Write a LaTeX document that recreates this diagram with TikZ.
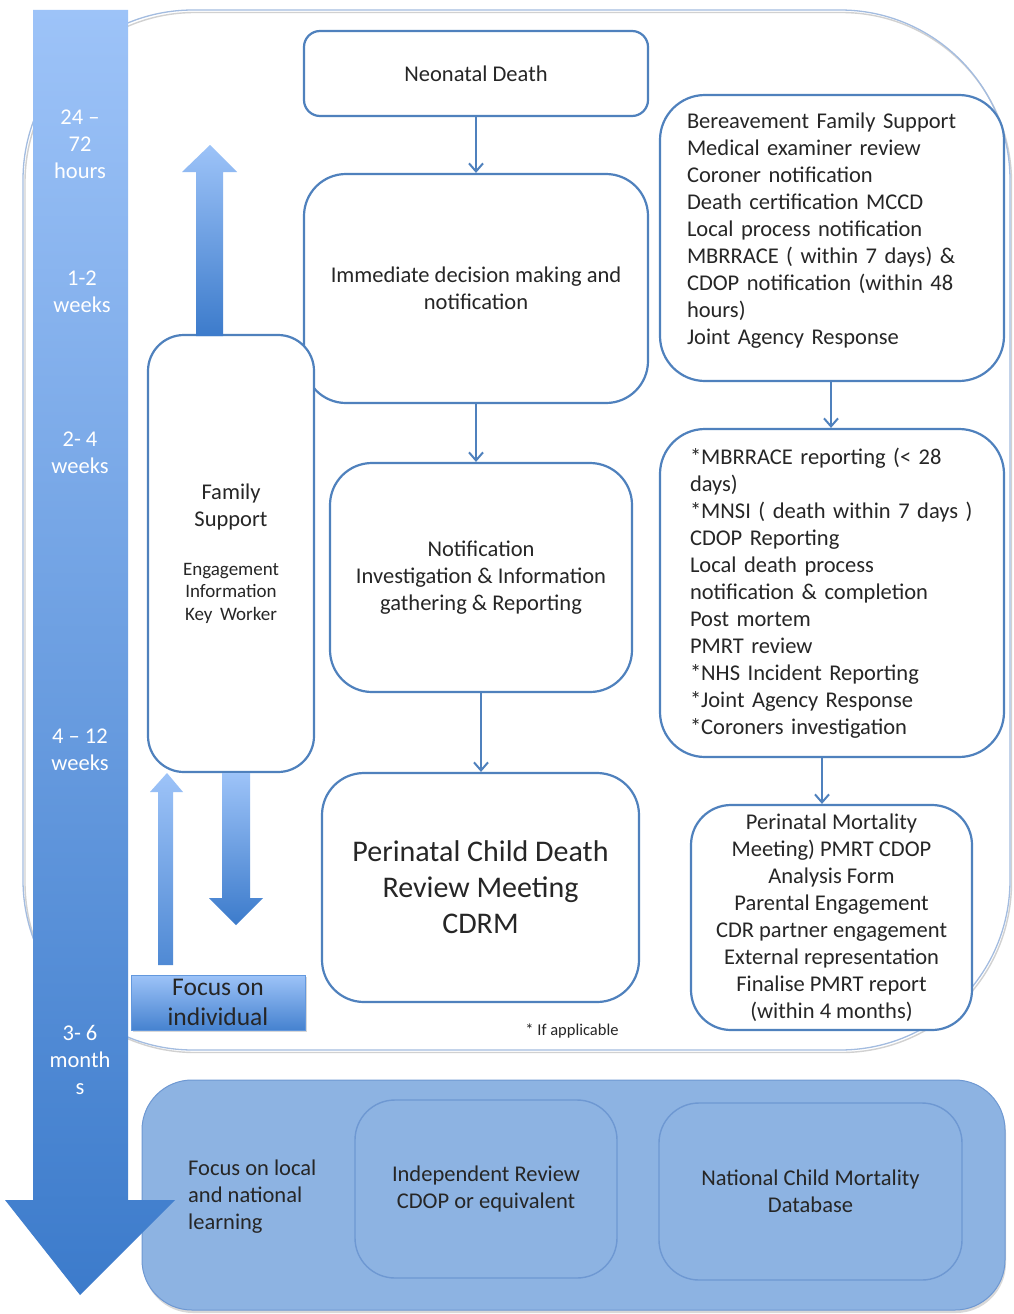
\documentclass[tikz,border=0pt]{standalone}
\usepackage{fontspec}
\setmainfont{Carlito}
\usetikzlibrary{arrows.meta,shadows}
\definecolor{boxline}{HTML}{4F81BD}
\definecolor{txt}{HTML}{262626}
\definecolor{lightb}{HTML}{9DC3F8}
\definecolor{darkb}{HTML}{3C7BCB}
\definecolor{frameline}{HTML}{A3BCE0}
\definecolor{bandfill}{HTML}{8DB3E2}
\definecolor{bandline}{HTML}{6E98D2}
\begin{document}
\begin{tikzpicture}[x=1pt,y=-1pt,
  box/.style={draw=boxline, line width=2.2pt, fill=white, text=txt, align=center,
    font=\fontsize{22.5}{27}\selectfont, inner sep=0pt},
  lbox/.style={box, align=left},
  conn/.style={draw=boxline, line width=2.2pt, -{Straight Barb[length=8pt,width=14pt,line width=2pt]}},
  tl/.style={text=white, align=center, font=\fontsize{22.5}{27}\selectfont},
  blockarrow/.style={top color=lightb, bottom color=darkb, draw=none},
  inner/.style={draw=bandline, line width=1.4pt, fill=bandfill, rounded corners=40pt,
    text=txt, align=center, font=\fontsize{22.5}{27}\selectfont},
]
\useasboundingbox (0,0) rectangle (1013,1314);
\fill[white] (0,0) rectangle (1013,1314);

% outer frame (with faint shadow line)
\draw[black!18, line width=1.4pt, rounded corners=170pt] (25,12.5) rectangle (1011.5,1052.5);
\draw[frameline, line width=1.3pt, rounded corners=170pt] (23,10) rectangle (1010,1050);

% bottom band
\node[draw=bandline, line width=1pt, fill=bandfill, rounded corners=50pt,
  minimum width=863pt, minimum height=230pt,
  drop shadow={opacity=0.3, shadow xshift=1pt, shadow yshift=-3pt}] (band) at (573.5,1195) {};
\node[text=txt, align=left, anchor=west, inner sep=0pt, font=\fontsize{22.5}{27}\selectfont] (learn) at (188,1197)
  {Focus on local\\and national\\learning};
\node[inner, minimum width=262pt, minimum height=178pt] (indep) at (486,1189)
  {Independent Review\\CDOP or equivalent};
\node[inner, minimum width=303pt, minimum height=177pt] (ncmd) at (810.5,1191.5)
  {National Child Mortality\\Database};

% timeline arrow
\shade[blockarrow] (33,10) -- (128,10) -- (128,1200) -- (175,1200) -- (80,1295) -- (5,1200) -- (33,1200) -- cycle;
\node[tl] (t1) at (80,144) {24 –\\72\\hours};
\node[tl] (t2) at (82,292) {1-2\\weeks};
\node[tl] (t3) at (80,453) {2- 4\\weeks};
\node[tl] (t4) at (80,750) {4 – 12\\weeks};
\node[tl] (t5) at (80,1060) {3- 6\\month\\s};

% main boxes
\node[box, minimum width=344pt, minimum height=85pt, rounded corners=16pt] (nd) at (476,73.5)
  {Neonatal Death};
\node[box, minimum width=344pt, minimum height=229pt, rounded corners=42pt] (imm) at (476,288.5)
  {Immediate decision making and\\notification};
\node[box, minimum width=302pt, minimum height=229pt, rounded corners=42pt] (notif) at (481,577.5)
  {Notification\\Investigation \& Information\\gathering \& Reporting};
\node[box, minimum width=317pt, minimum height=229pt, rounded corners=42pt,
  font=\fontsize{30}{36}\selectfont] (cdrm) at (480.5,887.5)
  {Perinatal Child Death\\Review Meeting\\CDRM};
\node[box, minimum width=166pt, minimum height=437pt, rounded corners=36pt, text width=156pt] (fam) at (231,553.5)
  {Family\\Support\par\vspace{26pt}{\fontsize{19}{22.5}\selectfont Engagement\\Information\\Key Worker\par}};

\node[lbox, minimum width=344pt, minimum height=286pt, rounded corners=45pt, text width=290pt] (r1) at (832,238)
  {Bereavement Family Support\\Medical examiner review\\Coroner notification\\Death certification MCCD\\Local process notification\\MBRRACE ( within 7 days) \&\\CDOP notification (within 48\\hours)\\Joint Agency Response\par\vspace{14pt}};
\node[lbox, minimum width=344pt, minimum height=328pt, rounded corners=45pt, text width=284pt] (r2) at (832,593)
  {{*}MBRRACE reporting (< 28\\days)\\{*}MNSI ( death within 7 days )\\CDOP Reporting\\Local death process\\notification \& completion\\Post mortem\\PMRT review\\{*}NHS Incident Reporting\\{*}Joint Agency Response\\{*}Coroners investigation};
\node[box, minimum width=281pt, minimum height=225pt, rounded corners=40pt] (r3) at (831.5,917.5)
  {Perinatal Mortality\\Meeting) PMRT CDOP\\Analysis Form\\Parental Engagement\\CDR partner engagement\\External representation\\Finalise PMRT report\\(within 4 months)};

% connectors
\draw[conn] (nd) -- (imm);
\draw[conn] (imm.south) -- (imm.south |- notif.north);
\draw[conn] (notif.south) -- (notif.south |- cdrm.north);
\draw[conn] (r1.south -| 831,0) -- (r2.north -| 831,0);
\draw[conn] (r2.south -| 822,0) -- (r3.north -| 822,0);

% block arrows
\shade[blockarrow] (196,336) -- (196,172) -- (182,172) -- (210,145) -- (237,172) -- (223,172) -- (223,336) -- cycle;
\shade[top color=lightb, bottom color=darkb!80!lightb] (158,965) -- (158,792) -- (150,792) -- (167,773) -- (183,792) -- (173,792) -- (173,965) -- cycle;
\shade[blockarrow] (222,773) -- (250,773) -- (250,898) -- (263,898) -- (236,925) -- (209,898) -- (222,898) -- cycle;

% focus on individual
\node[top color=lightb, bottom color=darkb!90!lightb, draw=darkb!60!lightb, line width=0.6pt,
  minimum width=174pt, minimum height=55pt, inner sep=0pt, align=center, text=txt,
  font=\fontsize{25.5}{30}\selectfont,
  drop shadow={opacity=0.3, shadow xshift=2pt, shadow yshift=-2pt}] (fi) at (218,1002.5)
  {Focus on\\individual};

\node[text=txt, font=\fontsize{16.5}{18}\selectfont] (ifapp) at (572,1031) {* If applicable};
\end{tikzpicture}
\end{document}
